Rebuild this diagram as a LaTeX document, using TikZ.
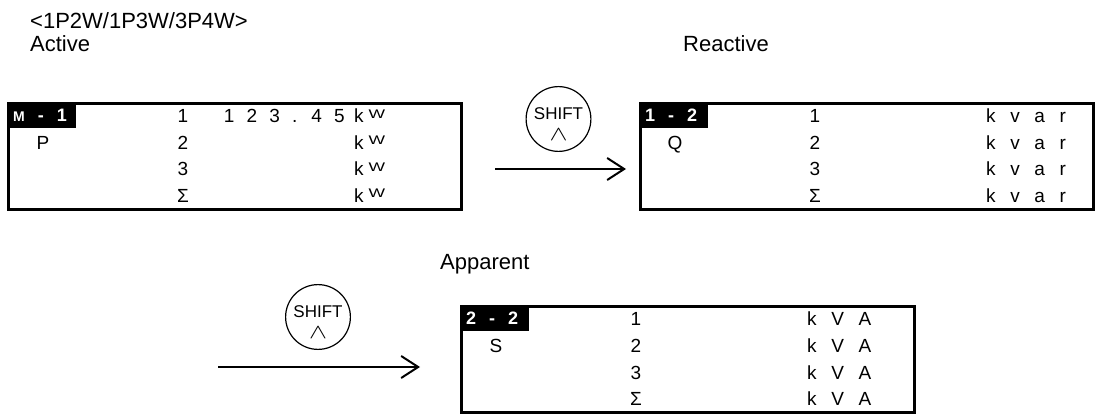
\documentclass[tikz,border=0pt]{standalone}
\usepackage{fontspec}
\setmainfont{Liberation Sans}
\usetikzlibrary{arrows.meta}
\newcommand{\lcd}{\fontsize{19}{19}\selectfont\spaceskip=14.6pt\relax}
\newcommand{\lcdval}{\fontsize{19}{19}\selectfont\spaceskip=12.2pt\relax}
\newcommand{\wsym}{\raisebox{4.8pt}{\scalebox{1.4}[1]{\fontsize{12.5}{12.5}\selectfont W}}}
\newcommand{\caret}{{\fontsize{20}{20}\selectfont\scalebox{1.3}[1]{$\wedge$}}}
\newcommand{\gap}{\hspace{13pt}}

\begin{document}
\begin{tikzpicture}[x=1pt,y=-1pt,>={Straight Barb[length=17pt,width=22pt]},every node/.style={inner sep=0pt,font=\lcd},head/.style={anchor=base west,font=\fontsize{22}{22}\selectfont},disp/.style={draw,line width=3pt,anchor=north west,minimum width=453pt,minimum height=106pt},tag/.style={fill=black,text=white,anchor=north west,font=\bfseries\fontsize{18}{18}\selectfont,inner xsep=6pt,text width=57pt,align=left,minimum height=26pt},num/.style={anchor=base},unit/.style={anchor=base west},val/.style={anchor=base east,font=\lcdval},key/.style={circle,draw,line width=1.2pt,minimum size=62pt,align=center,font=\fontsize{17}{21}\selectfont},]
\useasboundingbox (0,0) rectangle (1101,414);
\node[head] (title) at (30,29) {<1P2W/1P3W/3P4W>};
\node[head] (act) at (30,52) {Active};
\node[head] (react) at (683,52) {Reactive};
\node[head] (app) at (440,270) {Apparent};
\begin{scope}[shift={(7,102)}]
\node[disp] (d) at (0,0) {};
\node[tag] (t) at (0,0) {{\fontsize{14}{14}\selectfont M}\gap-\gap1};
\node[num] (q) at (36,47.5) {P};
\node[num] (r1) at (176,21) {1};
\node[num] (r2) at (176,47.5) {2};
\node[num] (r3) at (176,74) {3};
\node[num] (r4) at (176,100.5) {Σ};
\node[val] (v) at (338,21) {1 2 3 . 4 5};
\node[unit] (u1) at (347,21) {k\hspace{5pt}\wsym};
\node[unit] (u2) at (347,47.5) {k\hspace{5pt}\wsym};
\node[unit] (u3) at (347,74) {k\hspace{5pt}\wsym};
\node[unit] (u4) at (347,100.5) {k\hspace{5pt}\wsym};
\end{scope}
\coordinate (a0) at (495,169);
\coordinate (a1) at (626,169);
\draw[->,line width=2pt] (a0) -- (a1);
\node[key] (k1) at (558.5,119) {\rule{0pt}{21.6pt}SHIFT\\\caret};
\begin{scope}[shift={(639,102)}]
\node[disp] (d) at (0,0) {};
\node[tag] (t) at (0,0) {1\gap-\gap2};
\node[num] (q) at (36,47.5) {Q};
\node[num] (r1) at (176,21) {1};
\node[num] (r2) at (176,47.5) {2};
\node[num] (r3) at (176,74) {3};
\node[num] (r4) at (176,100.5) {Σ};
\node[unit] (u1) at (347,21) {k v a r};
\node[unit] (u2) at (347,47.5) {k v a r};
\node[unit] (u3) at (347,74) {k v a r};
\node[unit] (u4) at (347,100.5) {k v a r};
\end{scope}
\coordinate (b0) at (218,367);
\coordinate (b1) at (420,367);
\draw[->,line width=2pt] (b0) -- (b1);
\node[key] (k2) at (318,317) {\rule{0pt}{21.6pt}SHIFT\\\caret};
\begin{scope}[shift={(460,305)}]
\node[disp] (d) at (0,0) {};
\node[tag] (t) at (0,0) {2\gap-\gap2};
\node[num] (q) at (36,47.5) {S};
\node[num] (r1) at (176,21) {1};
\node[num] (r2) at (176,47.5) {2};
\node[num] (r3) at (176,74) {3};
\node[num] (r4) at (176,100.5) {Σ};
\node[unit] (u1) at (347,21) {k V A};
\node[unit] (u2) at (347,47.5) {k V A};
\node[unit] (u3) at (347,74) {k V A};
\node[unit] (u4) at (347,100.5) {k V A};
\end{scope}
\end{tikzpicture}
\end{document}
